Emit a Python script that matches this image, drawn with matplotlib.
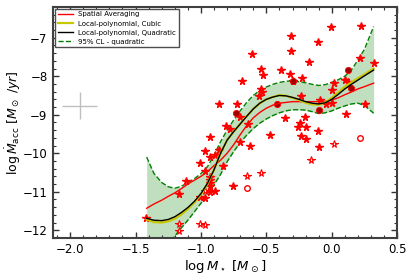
import matplotlib
matplotlib.use("Agg")
import matplotlib.pyplot as plt
from matplotlib import ticker

# curves
curve_x = [-1.415, -1.36, -1.30, -1.25, -1.20, -1.15, -1.10, -1.05, -1.00, -0.95, -0.90, -0.85,
           -0.80, -0.75, -0.70, -0.65, -0.60, -0.55, -0.50, -0.45, -0.40, -0.35, -0.30, -0.25,
           -0.20, -0.15, -0.10, -0.05, 0.00, 0.05, 0.10, 0.15, 0.20, 0.25, 0.32]
spatial_avg = [-11.43, -11.32, -11.22, -11.12, -11.03, -10.92, -10.80, -10.70, -10.60, -10.48, -10.32, -10.18,
               -10.00, -9.78, -9.52, -9.28, -9.08, -8.94, -8.83, -8.75, -8.70, -8.68, -8.66, -8.66,
               -8.66, -8.66, -8.66, -8.65, -8.62, -8.56, -8.48, -8.41, -8.33, -8.27, -8.18]
quadratic = [-11.69, -11.74, -11.75, -11.72, -11.65, -11.54, -11.41, -11.25, -11.05, -10.78, -10.43, -10.00,
             -9.66, -9.44, -9.24, -9.04, -8.85, -8.70, -8.60, -8.54, -8.50, -8.51, -8.55, -8.60,
             -8.66, -8.70, -8.72, -8.69, -8.60, -8.47, -8.33, -8.21, -8.10, -7.99, -7.84]
cubic = [-11.72, -11.79, -11.80, -11.77, -11.70, -11.59, -11.45, -11.28, -11.07, -10.79, -10.43, -10.00,
         -9.66, -9.44, -9.24, -9.04, -8.85, -8.70, -8.60, -8.54, -8.49, -8.51, -8.56, -8.62,
         -8.69, -8.73, -8.74, -8.68, -8.56, -8.42, -8.27, -8.16, -8.05, -7.95, -7.80]
cl_upper = [-10.10, -10.52, -10.76, -10.87, -10.91, -10.86, -10.76, -10.66, -10.53, -10.35, -10.05, -9.70,
            -9.40, -9.14, -8.90, -8.68, -8.50, -8.37, -8.28, -8.21, -8.16, -8.13, -8.12, -8.14,
            -8.17, -8.21, -8.24, -8.22, -8.16, -8.09, -8.00, -7.84, -7.58, -7.30, -6.71]
cl_lower = [-13.30, -12.95, -12.70, -12.42, -12.15, -11.94, -11.74, -11.52, -11.30, -11.05, -10.82, -10.55,
            -10.22, -9.96, -9.72, -9.53, -9.36, -9.22, -9.11, -9.02, -8.95, -8.90, -8.87, -8.87,
            -8.88, -8.92, -8.97, -8.95, -8.90, -8.83, -8.77, -8.72, -8.70, -8.76, -8.96]

# data points
star_x = [-1.418, -1.168, -1.117, -1.010, -1.010, -0.970, -0.970, -0.970, -0.931, -0.931,
          -0.895, -0.931, -0.931, -0.931, -0.931, -0.931, -0.895, -0.862, -0.862, -0.833,
          -0.805, -0.780, -0.755, -0.727, -0.704, -0.704, -0.683, -0.640, -0.625, -0.607,
          -0.556, -0.543, -0.530, -0.543, -0.525, -0.472, -0.390, -0.360, -0.319, -0.314,
          -0.314, -0.293, -0.230, -0.232, -0.243, -0.255, -0.199, -0.207, -0.237, -0.199,
          -0.174, -0.105, -0.090, -0.105, -0.097, -0.046, -0.005, 0.005, 0.005, 0.020,
          0.100, 0.125, 0.107, 0.222, 0.217, 0.252, 0.326]
star_y = [-11.68, -11.07, -10.71, -10.26, -11.13, -11.16, -10.46, -9.93, -9.58, -10.10,
          -10.04, -10.62, -10.70, -10.78, -10.85, -11.00, -10.97, -9.91, -8.72, -10.34,
          -9.29, -9.37, -10.85, -8.72, -9.05, -9.72, -8.12, -9.24, -9.82, -7.42,
          -8.51, -8.34, -8.40, -7.82, -7.98, -9.52, -7.84, -9.08, -7.93, -6.96,
          -7.35, -8.12, -8.05, -8.51, -9.21, -9.31, -9.31, -9.05, -9.55, -9.62,
          -7.62, -7.10, -8.62, -9.43, -9.84, -8.73, -6.71, -8.70, -8.36, -8.17,
          -8.10, -8.14, -8.98, -6.70, -7.52, -8.72, -7.65]
open_star_x = [-1.168, -1.168, -1.010, -0.970, -0.970, -0.645, -0.543, -0.161, 0.018]
open_star_y = [-11.83, -12.02, -11.85, -11.87, -10.97, -10.60, -10.52, -10.18, -9.76]
dot_x = [-0.729, -0.421, -0.293, -0.097, 0.125, 0.150]
dot_y = [-8.96, -8.72, -8.12, -8.87, -7.84, -8.31]
open_dot_x = [0.217, -0.645]
open_dot_y = [-9.60, -10.91]

# typical error bar
err_x, err_y = -1.926, -8.77
err_dx, err_dy = 0.134, 0.35

fig = plt.figure(figsize=(4.15, 2.77), dpi=100)
ax = fig.add_axes([0.128, 0.141, 0.829, 0.834])

ax.fill_between(curve_x, cl_lower, cl_upper, color='green', alpha=0.25, linewidth=0)
ax.plot(curve_x, cl_upper, color='green', linestyle='--', linewidth=1.0)
ax.plot(curve_x, cl_lower, color='green', linestyle='--', linewidth=1.0)

ax.plot(star_x, star_y, linestyle='none', marker='*', markersize=5.5, color='red', markeredgecolor='red')
ax.plot(open_star_x, open_star_y, linestyle='none', marker='*', markersize=5.5,
        markerfacecolor='white', markeredgecolor='red', markeredgewidth=0.8)
ax.plot(dot_x, dot_y, linestyle='none', marker='o', markersize=4.5,
        markerfacecolor='#a00000', markeredgecolor='red', markeredgewidth=0.6)
ax.plot(open_dot_x, open_dot_y, linestyle='none', marker='o', markersize=4,
        markerfacecolor='white', markeredgecolor='red', markeredgewidth=1.0)

l1, = ax.plot(curve_x, spatial_avg, color='red', linewidth=1.0)
l2, = ax.plot(curve_x, cubic, color='#c8c800', linewidth=1.6)
l3, = ax.plot(curve_x, quadratic, color='black', linewidth=1.0)
l4, = ax.plot([], [], color='green', linestyle='--', linewidth=1.0)

ax.errorbar([err_x], [err_y], xerr=[err_dx], yerr=[err_dy], fmt='none', ecolor='0.75', elinewidth=1.0)

ax.set_xlim(-2.13, 0.5)
ax.set_ylim(-12.2, -6.2)
ax.xaxis.set_major_locator(ticker.MultipleLocator(0.5))
ax.xaxis.set_minor_locator(ticker.MultipleLocator(0.1))
ax.yaxis.set_major_locator(ticker.MultipleLocator(1))
ax.yaxis.set_minor_locator(ticker.MultipleLocator(0.2))
ax.tick_params(which='both', direction='in', top=True, right=True, labelsize=8.5, color='0.2')
ax.tick_params(which='major', length=4, width=1.0, pad=4)
ax.tick_params(which='minor', length=2, width=0.8)
for s in ax.spines.values():
    s.set_linewidth(1.5)
    s.set_color('0.25')

ax.set_xlabel(r'$\log M_\star$ $[M_\odot]$', fontsize=9.5)
ax.set_ylabel(r'$\log\dot{M}_{\rm acc}$ $[M_\odot$ $/yr]$', fontsize=9)
ax.xaxis.set_label_coords(0.5, -0.085)
ax.yaxis.set_label_coords(-0.088, 0.5)

ax.legend([l1, l2, l3, l4], ['Spatial Averaging', 'Local-polynomial, Cubic',
                             'Local-polynomial, Quadratic', '95% CL - quadratic'],
          loc='upper left', fontsize=5, handlelength=2.2, borderpad=0.35, labelspacing=0.45,
          fancybox=False, edgecolor='0.3', framealpha=1.0, borderaxespad=0.3)

fig.savefig('out.png', dpi=100)
